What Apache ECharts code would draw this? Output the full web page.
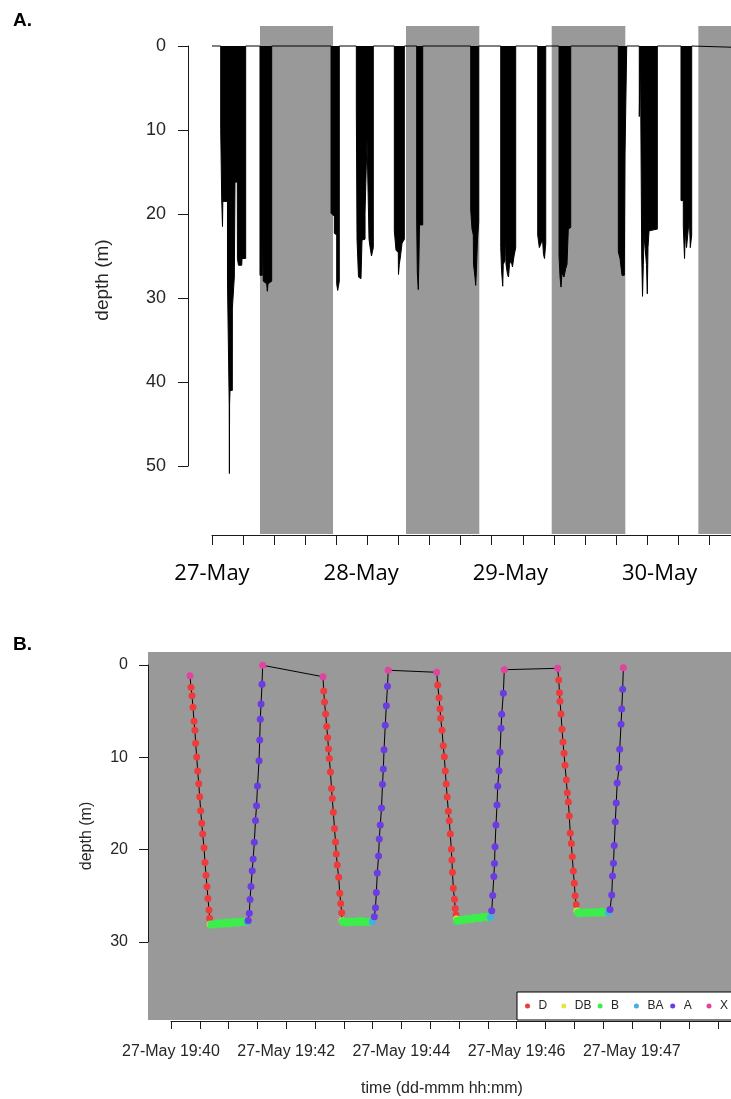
<!DOCTYPE html>
<html>
<head>
<meta charset="utf-8">
<script src="https://cdn.jsdelivr.net/npm/echarts@6/dist/echarts.min.js"></script>
<style>
  html, body { margin: 0; padding: 0; background: #fff; }
  #chart { width: 731px; height: 1099px; }
</style>
</head>
<body>
<div id="chart"></div>
<script>
// ---------- Panel A: multi-day dive record ----------
// Day labels on the time axis (hours since 27-May 00:00)
const dayLabels = ['27-May', '28-May', '29-May', '30-May'];
// Shaded periods (hours since 27-May 00:00)
const shadeStart = [7.72, 31.21, 54.65, 78.24];
const shadeEnd   = [19.47, 43.00, 66.49, 91.00];
// Depth envelope of the dive record: [hours, depth m]
const diveRecord = [
  [0, 0],
  [1.40, 0], [1.40, 9.8], [1.56, 9.8], [1.56, 18.2], [1.66, 18.2], [1.69, 21.5], [1.74, 18.5], [2.49, 18.5],
  [2.49, 28], [2.73, 28], [2.77, 42.7], [2.80, 50.9], [2.83, 42.7], [2.90, 41], [3.27, 41], [3.28, 31.2],
  [3.54, 31.2], [3.59, 27.5], [3.70, 16.2], [4.07, 16.2], [4.09, 25.3], [4.26, 26.1], [4.78, 26.1],
  [4.83, 25.3], [5.42, 25.3], [5.42, 0],
  [7.72, 0], [7.72, 27.3], [8.09, 27.3], [8.09, 20], [8.25, 20], [8.25, 28], [8.80, 28.3], [8.90, 29.2],
  [9.01, 28.3], [9.60, 28], [9.60, 0],
  [19.15, 0], [19.15, 19.9], [19.68, 20.3], [19.68, 22.3], [20.06, 22.5], [20.06, 28.3], [20.22, 29.1],
  [20.48, 28], [20.48, 0],
  [23.22, 0], [23.22, 7.6], [23.33, 7.6], [23.33, 23], [23.57, 27.5], [23.97, 27.7], [24.13, 23.1],
  [24.62, 23], [24.62, 19.9], [24.94, 19.9], [24.94, 11], [25.26, 11], [25.26, 23], [25.50, 24.3],
  [25.66, 25], [25.95, 24], [25.95, 0],
  [29.33, 0], [29.33, 22], [29.60, 24.3], [29.97, 24.6], [30.00, 27.2], [30.13, 26], [30.33, 25],
  [30.57, 23.5], [30.94, 23], [30.94, 0],
  [32.93, 0], [32.93, 21], [33.03, 27], [33.19, 29], [33.30, 25], [33.38, 21.3], [33.90, 21.3], [33.90, 0],
  [41.62, 0], [41.62, 19.5], [41.83, 21.8], [42.04, 22.5], [42.07, 26], [42.31, 27.5], [42.42, 28.5],
  [42.52, 27], [42.71, 23], [42.91, 21], [42.91, 0],
  [46.45, 0], [46.45, 24], [46.58, 26.7], [46.77, 28.6], [46.86, 26], [47.14, 25.5], [47.19, 21.5],
  [47.30, 21.5], [47.30, 26], [47.54, 27.2], [47.70, 27.5], [47.86, 26], [48.10, 25.5], [48.34, 26.3],
  [48.59, 25], [48.86, 24], [48.86, 0],
  [52.40, 0], [52.40, 22.5], [52.66, 24], [52.93, 23.5], [53.17, 23], [53.33, 24.8], [53.49, 25.3],
  [53.69, 23.5], [53.69, 0],
  [55.83, 0], [55.83, 25], [55.99, 27.5], [56.15, 28.7], [56.31, 27], [56.63, 27.5], [56.90, 26.5],
  [57.11, 26], [57.32, 21.8], [57.71, 21.6], [57.71, 0],
  [65.37, 0], [65.37, 24.5], [65.64, 25.3], [65.91, 25.3], [65.96, 27.3], [66.33, 27.3], [66.44, 13],
  [66.72, 13], [66.72, 0],
  [68.74, 0], [68.74, 8.4], [68.91, 8.4], [68.91, 0],
  [69.13, 0], [69.13, 25], [69.26, 29.8], [69.39, 26], [69.50, 22.5], [69.82, 22.5], [69.90, 26],
  [70.03, 29.5], [70.14, 24], [70.31, 22], [71.64, 21.8], [71.64, 0],
  [75.45, 0], [75.45, 18.4], [75.82, 18.4], [75.82, 21.5], [76.02, 25.3], [76.15, 22], [76.34, 24],
  [76.58, 23.8], [76.79, 20.5], [76.95, 24], [77.17, 22.5], [77.17, 0],
  [86, 0.2]
];

// ---------- Panel B: four dives, seconds after 27-May 19:40:00 ----------
const timeLabels = ['27-May 19:40', '27-May 19:42', '27-May 19:44', '27-May 19:46', '27-May 19:47'];
const phaseNames = ['D', 'DB', 'B', 'BA', 'A', 'X'];
const phaseColors = ['#ee3c3c', '#e6e640', '#3cee4c', '#46aee0', '#6a3ce2', '#e0449e'];

// descent
const phaseD = [
  [20.8, 2.42], [21.9, 3.33], [22.9, 4.58], [24.0, 6.10], [24.9, 7.07], [25.7, 8.48], [26.8, 9.97],
  [27.8, 11.48], [28.9, 12.86], [29.9, 14.27], [30.9, 15.79], [32.0, 17.15], [33.0, 18.31], [34.4, 19.79],
  [35.4, 21.38], [36.5, 22.78], [37.5, 24.02], [38.5, 25.28], [39.6, 26.54], [40.2, 27.44],
  [159.1, 2.82], [159.9, 4.01], [161.1, 5.31], [162.2, 6.66], [163.2, 7.88], [164.1, 9.10], [164.9, 10.13],
  [166.1, 11.59], [167.2, 13.38], [168.0, 14.46], [169.1, 15.96], [170.3, 17.71], [171.4, 19.18],
  [172.2, 20.48], [173.2, 21.67], [174.7, 23.00], [175.8, 24.73], [176.8, 25.82], [177.8, 26.84],
  [277.8, 2.17], [279.2, 3.54], [280.2, 4.73], [280.9, 5.77], [282.3, 7.07], [283.6, 8.74], [284.7, 9.94],
  [285.7, 11.48], [286.7, 12.89], [287.7, 14.30], [288.9, 15.85], [289.9, 16.87], [290.9, 18.31],
  [292.0, 19.96], [292.6, 21.13], [293.2, 22.46], [294.1, 24.19], [295.3, 25.38], [296.1, 26.36], [296.9, 27.09],
  [403.9, 1.63], [404.7, 3.00], [405.2, 3.93], [406.3, 5.31], [407.3, 6.97], [408.3, 8.34], [409.4, 9.57],
  [410.4, 10.87], [411.8, 12.46], [412.8, 13.84], [413.9, 14.84], [414.9, 16.36], [415.9, 18.23],
  [417.0, 19.32], [418.0, 20.77], [419.1, 22.32], [420.1, 23.65], [421.0, 24.99], [422.1, 25.93]
];
// descent-to-bottom transition
const phaseDB = [[40.8, 28.09], [178.2, 27.70], [297.4, 27.52], [422.9, 26.65]];
// bottom
const phaseB = [
  [42, 28.1], [44, 28.1], [46, 28.1], [48, 28.0], [50, 28.0], [52, 28.0], [54, 28.0], [56, 28.0], [58, 27.9],
  [60, 28.0], [62, 27.9], [64, 27.9], [66, 27.9], [68, 27.9], [70, 27.9], [72, 27.8], [74, 27.8], [76, 27.8], [78, 27.8],
  [179, 27.8], [181, 27.8], [183, 27.9], [185, 27.8], [187, 27.8], [189, 27.8], [191, 27.8], [193, 27.8],
  [195, 27.8], [197, 27.7], [199, 27.8], [201, 27.8], [203, 27.8], [205, 27.8], [207, 27.8],
  [298, 27.7], [300, 27.7], [302, 27.6], [304, 27.6], [306, 27.6], [308, 27.5], [310, 27.5], [312, 27.5],
  [314, 27.5], [316, 27.4], [318, 27.4], [320, 27.4], [322, 27.4], [324, 27.3], [326, 27.3], [328, 27.3],
  [330, 27.3], [332, 27.3],
  [424, 26.8], [426, 26.9], [428, 26.9], [430, 26.8], [432, 26.8], [434, 26.8], [436, 26.8], [438, 26.8],
  [440, 26.8], [442, 26.8], [444, 26.8], [446, 26.8], [448, 26.7], [450, 26.8], [452, 26.8]
];
// bottom-to-ascent transition
const phaseBA = [[79.4, 27.82], [209.7, 27.81], [333.0, 27.33], [455.5, 26.81]];
// ascent
const phaseA = [
  [80.5, 27.68], [81.6, 26.90], [82.3, 25.41], [83.3, 24.00], [84.6, 22.29], [85.6, 21.00], [86.8, 19.21],
  [88.0, 16.83], [89.1, 15.25], [90.1, 13.11], [91.7, 10.37], [92.4, 8.13], [93.0, 5.88], [93.8, 4.23], [94.8, 2.09],
  [211.8, 27.27], [213.0, 26.29], [213.9, 24.65], [214.9, 22.54], [216.2, 20.69], [217.0, 18.85], [218.0, 17.33],
  [219.3, 15.49], [220.3, 12.91], [221.2, 11.27], [221.9, 9.18], [223.2, 6.53], [224.3, 4.41], [225.5, 2.31],
  [334.1, 26.62], [335.1, 24.97], [336.3, 22.91], [337.0, 21.51], [337.5, 19.69], [338.5, 17.33], [339.6, 15.17],
  [340.3, 13.14], [341.7, 11.45], [342.7, 9.46], [343.8, 6.86], [344.5, 5.34], [346.2, 3.07],
  [457.3, 26.47], [459.1, 24.92], [459.9, 22.86], [460.9, 21.48], [461.7, 19.56], [462.8, 16.98], [463.8, 14.95],
  [464.8, 12.78], [466.7, 11.16], [467.4, 9.13], [468.8, 6.42], [469.5, 4.77], [470.5, 2.63]
];
// surface
const phaseX = [[19.8, 1.17], [95.5, 0.03], [158.3, 1.27], [226.3, 0.57], [276.8, 0.79], [347.2, 0.51], [402.8, 0.36], [471.2, 0.29]];

// ---------- layout ----------
const FONT = '"Liberation Sans", Arial, sans-serif';
const TXT = '#262626';
const AXC = '#1a1a1a';

// Panel A geometry
const A = { left: 188, right: 740, top: 26, bottom: 534, x0: 212, pxPerH: 31.08 / 5, y0: 46, pxPerM: 8.4, axisY: 535 };
const aXMin = -(A.x0 - A.left) / A.pxPerH;
const aXMax = (A.right - A.x0) / A.pxPerH;
const aYMin = -(A.y0 - A.top) / A.pxPerM;
const aYMax = (A.bottom - A.y0) / A.pxPerM;

// Panel B geometry
const B = { left: 148, right: 736, top: 652, bottom: 1020, x0: 171, pxPerS: 28.8 / 30, y0: 665, pxPerM: 92.33 / 10, axisY: 1021 };
const bXMin = -(B.x0 - B.left) / B.pxPerS;
const bXMax = (B.right - B.x0) / B.pxPerS;
const bYMin = -(B.y0 - B.top) / B.pxPerM;
const bYMax = (B.bottom - B.y0) / B.pxPerM;

// Legend frame and evenly spaced entries
const LEG = { left: 517, top: 992, padTop: 8, padLeft: 8, pitch: 36.3 };

const bare = {
  axisLine: { show: false }, axisTick: { show: false }, axisLabel: { show: false }, splitLine: { show: false }
};

const phaseData = [phaseD, phaseDB, phaseB, phaseBA, phaseA, phaseX];
const diveTrack = phaseData.flat().slice().sort((p, q) => p[0] - q[0]);

const legendBase = {
  orient: 'horizontal', selectedMode: false,
  itemWidth: 12, itemHeight: 5, itemGap: 0, icon: 'circle',
  textStyle: { fontFamily: FONT, fontSize: 12, color: TXT }
};
const legends = phaseNames.map((name, i) => i === 0
  ? { ...legendBase, data: [name], left: LEG.left, top: LEG.top,
      padding: [LEG.padTop, 240, LEG.padTop, LEG.padLeft],
      backgroundColor: '#fff', borderColor: '#000', borderWidth: 1, borderRadius: 0 }
  : { ...legendBase, data: [name], left: LEG.left + LEG.padLeft + i * LEG.pitch, top: LEG.top + LEG.padTop,
      padding: 0, backgroundColor: 'transparent', borderWidth: 0 });

const chart = echarts.init(document.getElementById('chart'), null, { renderer: 'canvas' });

chart.setOption({
  animation: false,
  backgroundColor: '#fff',
  graphic: [
    { type: 'text', left: 13, top: 11, style: { text: 'A.', font: 'bold 19px ' + FONT, fill: '#000' } },
    { type: 'text', left: 13, top: 635, style: { text: 'B.', font: 'bold 19px ' + FONT, fill: '#000' } }
  ],
  grid: [
    // 0: panel A data
    { left: A.left, top: A.top, width: A.right - A.left, height: A.bottom - A.top, containLabel: false, outerBoundsMode: 'none' },
    // 1: panel A time axis
    { left: A.x0, top: A.top, width: A.right - A.x0, height: A.axisY - A.top, containLabel: false, outerBoundsMode: 'none' },
    // 2: panel A depth axis
    { left: A.left, top: A.y0, width: 10, height: 50 * A.pxPerM, containLabel: false, outerBoundsMode: 'none' },
    // 3: panel B data
    { left: B.left, top: B.top, width: B.right - B.left, height: B.bottom - B.top, show: true,
      backgroundColor: '#999999', borderWidth: 0, containLabel: false, outerBoundsMode: 'none' },
    // 4: panel B time axis
    { left: B.x0, top: B.top, width: B.right - B.x0, height: B.axisY - B.top, containLabel: false, outerBoundsMode: 'none' },
    // 5: panel B depth axis
    { left: B.left, top: B.y0, width: 10, height: 30 * B.pxPerM, containLabel: false, outerBoundsMode: 'none' }
  ],
  xAxis: [
    { gridIndex: 0, type: 'value', min: aXMin, max: aXMax, show: false },
    { gridIndex: 1, type: 'value', min: 0, max: aXMax, interval: 5, position: 'bottom',
      axisLine: { show: true, lineStyle: { color: AXC, width: 1 } },
      axisTick: { show: true, length: 10, lineStyle: { color: AXC, width: 1 } },
      axisLabel: { show: false }, splitLine: { show: false } },
    { gridIndex: 1, type: 'value', min: 0, max: aXMax, interval: 24, position: 'bottom',
      axisLine: { show: false }, axisTick: { show: false }, splitLine: { show: false },
      axisLabel: { show: true, margin: 28, color: '#000', fontFamily: '"Open Sans", Lato, sans-serif', fontSize: 22,
        formatter: v => { const i = Math.round(v / 24); return Math.abs(v - i * 24) < 1e-6 && dayLabels[i] ? dayLabels[i] : ''; } } },
    { gridIndex: 2, type: 'value', min: 0, max: 1, show: false },
    { gridIndex: 3, type: 'value', min: bXMin, max: bXMax, ...bare,
      name: 'time (dd-mmm hh:mm)', nameLocation: 'middle', nameGap: 61,
      nameTextStyle: { fontFamily: FONT, fontSize: 16, color: TXT } },
    { gridIndex: 4, type: 'value', min: 0, max: bXMax, interval: 30, position: 'bottom',
      axisLine: { show: true, lineStyle: { color: AXC, width: 1 } },
      axisTick: { show: true, length: 8, lineStyle: { color: AXC, width: 1 } },
      splitLine: { show: false },
      axisLabel: { show: true, interval: 3, margin: 23, color: TXT, fontFamily: FONT, fontSize: 16,
        formatter: v => { const i = Math.round(v / 120); return Math.abs(v - i * 120) < 1e-6 && timeLabels[i] ? timeLabels[i] : ''; } } },
    { gridIndex: 5, type: 'value', min: 0, max: 1, show: false }
  ],
  yAxis: [
    { gridIndex: 0, type: 'value', inverse: true, min: aYMin, max: aYMax, ...bare,
      name: 'depth (m)', nameLocation: 'middle', nameGap: 76,
      nameTextStyle: { fontFamily: FONT, fontSize: 19, color: TXT } },
    { gridIndex: 1, type: 'value', min: 0, max: 1, show: false },
    { gridIndex: 2, type: 'value', inverse: true, min: 0, max: 50, interval: 10, position: 'left',
      axisLine: { show: true, lineStyle: { color: AXC, width: 1 } },
      axisTick: { show: true, length: 10, lineStyle: { color: AXC, width: 1 } },
      splitLine: { show: false },
      axisLabel: { margin: 22, color: TXT, fontFamily: FONT, fontSize: 18 } },
    { gridIndex: 3, type: 'value', inverse: true, min: bYMin, max: bYMax, ...bare,
      name: 'depth (m)', nameLocation: 'middle', nameGap: 53,
      nameTextStyle: { fontFamily: FONT, fontSize: 16, color: TXT } },
    { gridIndex: 4, type: 'value', min: 0, max: 1, show: false },
    { gridIndex: 5, type: 'value', inverse: true, min: 0, max: 30, interval: 10, position: 'left',
      axisLine: { show: true, lineStyle: { color: AXC, width: 1 } },
      axisTick: { show: true, length: 9, lineStyle: { color: AXC, width: 1 } },
      splitLine: { show: false },
      axisLabel: { margin: 20, color: TXT, fontFamily: FONT, fontSize: 16 } }
  ],
  legend: legends,
  series: [
    // shaded periods of the record
    { type: 'custom', xAxisIndex: 0, yAxisIndex: 0, z: 1, silent: true, clip: true,
      data: shadeStart.map((s, i) => [s, shadeEnd[i]]),
      encode: { x: [0, 1] },
      renderItem: (params, api) => {
        const cs = params.coordSys;
        const x1 = api.coord([api.value(0), 0])[0];
        const x2 = api.coord([api.value(1), 0])[0];
        return { type: 'rect', shape: { x: x1, y: cs.y, width: x2 - x1, height: cs.height }, style: { fill: '#999999' } };
      } },
    // dive record
    { type: 'line', xAxisIndex: 0, yAxisIndex: 0, z: 3, silent: true,
      data: diveRecord, symbol: 'none', showSymbol: false,
      lineStyle: { color: '#000', width: 1 },
      areaStyle: { color: '#000', opacity: 1, origin: 'auto' } },
    // dive track
    { type: 'line', xAxisIndex: 4, yAxisIndex: 3, z: 3, silent: true,
      data: diveTrack, symbol: 'none', showSymbol: false,
      lineStyle: { color: '#000', width: 1 } },
    // dive phases
    ...phaseNames.map((name, i) => ({
      type: 'scatter', name, xAxisIndex: 4, yAxisIndex: 3, z: 4 + i, silent: true,
      data: phaseData[i], symbol: 'circle', symbolSize: name === 'B' ? 8 : 7,
      itemStyle: { color: phaseColors[i], opacity: 1 }
    }))
  ]
});
</script>
</body>
</html>
